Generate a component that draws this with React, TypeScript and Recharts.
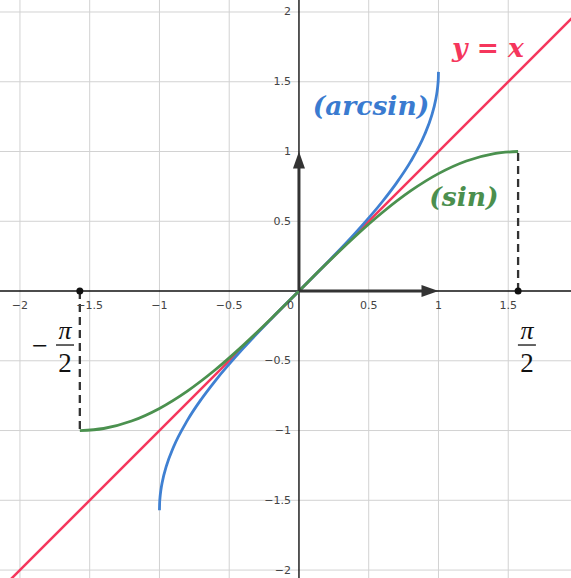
import React from 'react';
import { ComposedChart, XAxis, YAxis, Line, Scatter, ReferenceLine } from 'recharts';

// ---- data ----
const X_TICKS = [-2, -1.5, -1, -0.5, 0.5, 1, 1.5];
const Y_TICKS = [-2, -1.5, -1, -0.5, 0.5, 1, 1.5, 2];
const X_TICK_LABELS = ['−2', '−1.5', '−1', '−0.5', '0.5', '1', '1.5'];
const Y_TICK_LABELS = ['−2', '−1.5', '−1', '−0.5', '0.5', '1', '1.5', '2'];

const identityX = [-2.3, 2.2];
const identityY = [-2.3, 2.2];

const arcsinX = [-1, -0.999, -0.995, -0.99, -0.98, -0.95, -0.9, -0.8, -0.7, -0.6, -0.4, -0.2, 0, 0.2, 0.4, 0.6, 0.7, 0.8, 0.9, 0.95, 0.98, 0.99, 0.995, 0.999, 1];
const arcsinY = [-1.5708, -1.526, -1.4707, -1.4293, -1.3705, -1.2532, -1.1198, -0.9273, -0.7754, -0.6435, -0.4115, -0.2014, 0, 0.2014, 0.4115, 0.6435, 0.7754, 0.9273, 1.1198, 1.2532, 1.3705, 1.4293, 1.4707, 1.526, 1.5708];

const sinX = [-1.5708, -1.4, -1.2, -1.0, -0.8, -0.6, -0.4, -0.2, 0, 0.2, 0.4, 0.6, 0.8, 1.0, 1.2, 1.4, 1.5708];
const sinY = [-1, -0.9854, -0.932, -0.8415, -0.7174, -0.5646, -0.3894, -0.1987, 0, 0.1987, 0.3894, 0.5646, 0.7174, 0.8415, 0.932, 0.9854, 1];

const halfPi = 1.5708;
const dashRightX = [halfPi, halfPi];
const dashRightY = [0, 1];
const dashLeftX = [-halfPi, -halfPi];
const dashLeftY = [0, -1];

const arrowXShaftX = [0, 0.93];
const arrowXShaftY = [0, 0];
const arrowYShaftX = [0, 0];
const arrowYShaftY = [0, 0.93];

const zip = (xs: number[], ys: number[]) => xs.map((x, i) => ({ x, y: ys[i] }));

const identityData = zip(identityX, identityY);
const arcsinData = zip(arcsinX, arcsinY);
const sinData = zip(sinX, sinY);
const dashRight = zip(dashRightX, dashRightY);
const dashLeft = zip(dashLeftX, dashLeftY);
const shaftX = zip(arrowXShaftX, arrowXShaftY);
const shaftY = zip(arrowYShaftX, arrowYShaftY);

const xTickData = X_TICKS.map((x, i) => ({ x, y: 0, label: X_TICK_LABELS[i] }));
const yTickData = Y_TICKS.map((y, i) => ({ x: 0, y, label: Y_TICK_LABELS[i] }));
const originData = [{ x: 0, y: 0, label: '0' }];
const arrowHeads = [
  { x: 1, y: 0, dir: 'right' },
  { x: 0, y: 1, dir: 'up' },
];
const piDots = [
  { x: -halfPi, y: 0 },
  { x: halfPi, y: 0 },
];

const mathLabels = [
  { x: 1.355, y: 1.749, text: 'y = x', color: '#f5365c' },
  { x: 0.516, y: 1.333, text: '(arcsin)', color: '#3a7bd0' },
  { x: 1.183, y: 0.681, text: '(sin)', color: '#4b8f4e' },
];
const fractions = [
  { x: 1.634, y: -0.387, minus: false },
  { x: -1.677, y: -0.387, minus: true },
];

const RED = '#f5365c';
const BLUE = '#3f80d2';
const GREEN = '#4b914f';
const GRID = '#d2d2d2';
const DARK = '#333333';

const XTick = (p: any) => (
  <text x={p.cx} y={p.cy + 14} textAnchor="middle" dominantBaseline="central" fontFamily="DejaVu Sans" fontSize={11} fill="#444">
    {p.payload.label}
  </text>
);
const YTick = (p: any) => (
  <text x={p.cx - 8} y={p.cy} textAnchor="end" dominantBaseline="central" fontFamily="DejaVu Sans" fontSize={11} fill="#444">
    {p.payload.label}
  </text>
);
const OriginTick = (p: any) => (
  <text x={p.cx - 5} y={p.cy + 14} textAnchor="end" dominantBaseline="central" fontFamily="DejaVu Sans" fontSize={11} fill="#444">
    {p.payload.label}
  </text>
);
const ArrowHead = (p: any) => {
  const { cx, cy } = p;
  const pts = p.payload.dir === 'right'
    ? `${cx},${cy} ${cx - 17},${cy - 6} ${cx - 17},${cy + 6}`
    : `${cx},${cy} ${cx - 6},${cy + 17} ${cx + 6},${cy + 17}`;
  return <polygon points={pts} fill={DARK} />;
};
const Dot = (p: any) => <circle cx={p.cx} cy={p.cy} r={3.5} fill="#111" />;
const MathLabel = (p: any) => (
  <text x={p.cx} y={p.cy} textAnchor="middle" dominantBaseline="central" fontFamily="DejaVu Serif" fontStyle="italic" fontWeight="bold" fontSize={26.5} fill={p.payload.color}>
    {p.payload.text}
  </text>
);
const Fraction = (p: any) => {
  const { cx, cy } = p;
  return (
    <g>
      {p.payload.minus && (
        <text x={cx - 25} y={cy} textAnchor="middle" dominantBaseline="central" fontFamily="Liberation Serif" fontSize={28} fill="#111">−</text>
      )}
      <text x={cx} y={cy - 15} textAnchor="middle" dominantBaseline="central" fontFamily="Liberation Serif" fontStyle="italic" fontSize={26} fill="#111">π</text>
      <line x1={cx - 9} x2={cx + 9} y1={cy} y2={cy} stroke="#111" strokeWidth={1.3} />
      <text x={cx} y={cy + 18} textAnchor="middle" dominantBaseline="central" fontFamily="Liberation Serif" fontSize={27} fill="#111">2</text>
    </g>
  );
};

const lineCommon = { dot: false, activeDot: false, isAnimationActive: false, legendType: 'none' as const };

export default function App() {
  return (
    <div style={{ position: 'absolute', left: 0, top: 0, width: 571, height: 578, background: '#fff' }}>
      <ComposedChart width={571} height={578} margin={{ top: 0, right: 0, bottom: 0, left: 0 }}>
        <XAxis type="number" dataKey="x" domain={[-2.143, 1.95]} allowDataOverflow hide />
        <YAxis type="number" dataKey="y" domain={[-2.057, 2.086]} allowDataOverflow hide />
        {X_TICKS.map((v) => (
          <ReferenceLine key={'gx' + v} x={v} stroke={GRID} strokeWidth={1} />
        ))}
        {Y_TICKS.map((v) => (
          <ReferenceLine key={'gy' + v} y={v} stroke={GRID} strokeWidth={1} />
        ))}
        <ReferenceLine x={0} stroke="#111" strokeWidth={1.4} />
        <ReferenceLine y={0} stroke="#111" strokeWidth={1.4} />
        <Scatter data={xTickData} dataKey="y" shape={XTick} isAnimationActive={false} />
        <Scatter data={yTickData} dataKey="y" shape={YTick} isAnimationActive={false} />
        <Scatter data={originData} dataKey="y" shape={OriginTick} isAnimationActive={false} />
        <Line data={identityData} dataKey="y" type="linear" stroke={RED} strokeWidth={2.5} {...lineCommon} />
        <Line data={dashRight} dataKey="y" type="linear" stroke={DARK} strokeWidth={2.3} strokeDasharray="8 5" {...lineCommon} />
        <Line data={dashLeft} dataKey="y" type="linear" stroke={DARK} strokeWidth={2.3} strokeDasharray="8 5" {...lineCommon} />
        <Line data={arcsinData} dataKey="y" type="monotone" stroke={BLUE} strokeWidth={2.8} {...lineCommon} />
        <Line data={sinData} dataKey="y" type="monotone" stroke={GREEN} strokeWidth={2.8} {...lineCommon} />
        <Line data={shaftX} dataKey="y" type="linear" stroke={DARK} strokeWidth={3} {...lineCommon} />
        <Line data={shaftY} dataKey="y" type="linear" stroke={DARK} strokeWidth={3} {...lineCommon} />
        <Scatter data={arrowHeads} dataKey="y" shape={ArrowHead} isAnimationActive={false} />
        <Scatter data={piDots} dataKey="y" shape={Dot} isAnimationActive={false} />
        <Scatter data={mathLabels} dataKey="y" shape={MathLabel} isAnimationActive={false} />
        <Scatter data={fractions} dataKey="y" shape={Fraction} isAnimationActive={false} />
      </ComposedChart>
    </div>
  );
}
